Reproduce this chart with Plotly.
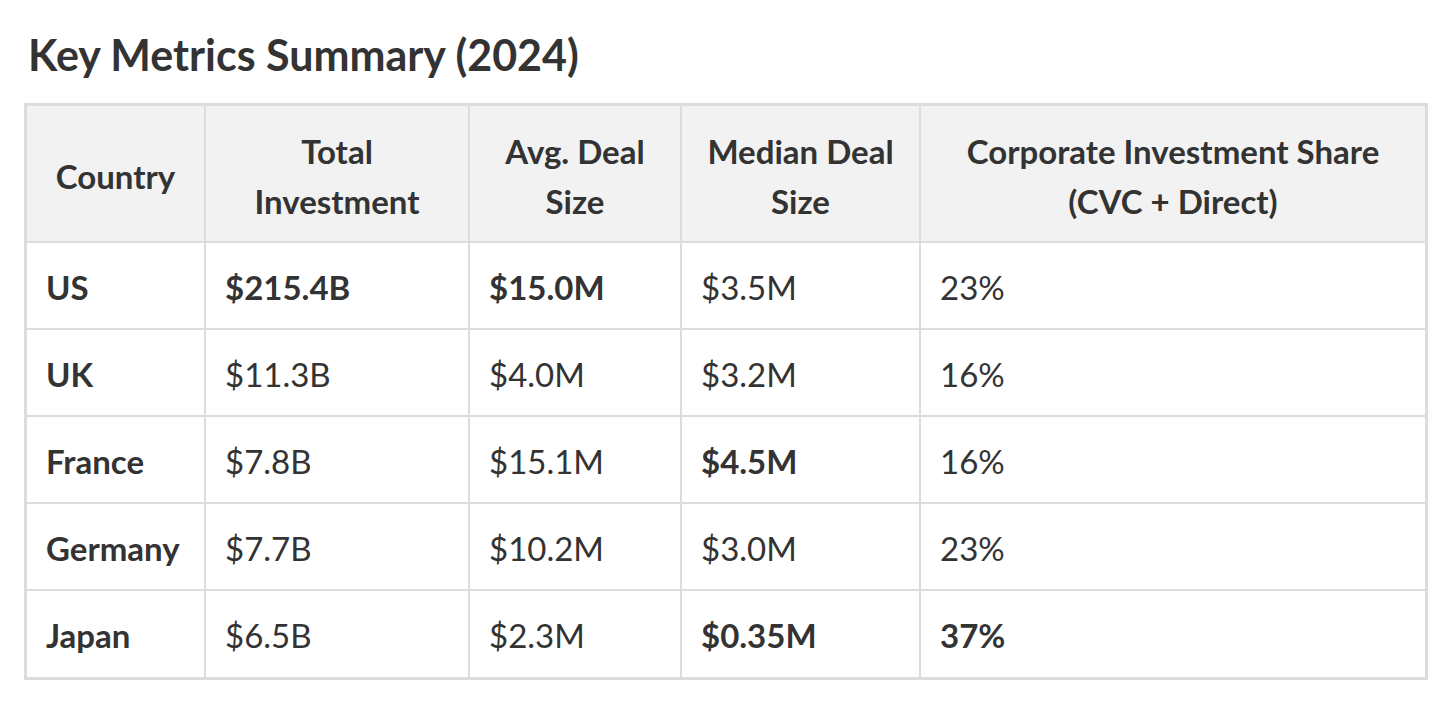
import plotly.graph_objects as go

title = "Key Metrics Summary (2024)"
header_lines = [["Country"], ["Total", "Investment"], ["Avg. Deal", "Size"],
                ["Median Deal", "Size"], ["Corporate Investment Share", "(CVC + Direct)"]]
countries = ["US", "UK", "France", "Germany", "Japan"]
total_investment = ["$215.4B", "$11.3B", "$7.8B", "$7.7B", "$6.5B"]
avg_deal_size = ["$15.0M", "$4.0M", "$15.1M", "$10.2M", "$2.3M"]
median_deal_size = ["$3.5M", "$3.2M", "$4.5M", "$3.0M", "$0.35M"]
corporate_share = ["23%", "16%", "16%", "23%", "37%"]
# highlighted (bold) cells: (column index, row index); the country column is always bold
bold_cells = {(1, 0), (2, 0), (3, 2), (3, 4), (4, 4)}

columns = [countries, total_investment, avg_deal_size, median_deal_size, corporate_share]

# ---- layout / style parameters (pixels) ----
W, H = 1456, 717
BODY_MARGIN = 8          # default page margin added by the browser
LEFT, TOP = 26 - BODY_MARGIN, 105 - BODY_MARGIN
col_widths = [179, 264, 212, 239, 506]
header_h = 137
row_heights = [87, 87, 87, 87, 88]
FONT = "Lato"
TEXT = "#333333"
BORDER = "#dcdcdc"
HEADER_BG = "#f2f2f2"
PAD = 20
LINE_GAP = 50
HEADER_SHIFT = 7
BODY_SHIFT = 6

x_edges = [0]
for w in col_widths:
    x_edges.append(x_edges[-1] + w)
y_edges = [0, header_h]
for h in row_heights:
    y_edges.append(y_edges[-1] + h)
table_w, table_h = x_edges[-1], y_edges[-1]

n_rows = len(countries)
n_cols = len(columns)
z = [[1] * n_cols] + [[0] * n_cols for _ in range(n_rows)]

fig = go.Figure()
fig.add_trace(go.Heatmap(
    z=z, x=x_edges, y=y_edges,
    colorscale=[[0, "#ffffff"], [1, HEADER_BG]], zmin=0, zmax=1,
    showscale=False, xgap=2, ygap=2, hoverinfo="skip",
))

# header text (centered, one point per line)
hx, hy, ht = [], [], []
hc = header_h / 2
for ci, lines in enumerate(header_lines):
    cx = (x_edges[ci] + x_edges[ci + 1]) / 2
    n = len(lines)
    for li, line in enumerate(lines):
        hx.append(cx)
        hy.append(hc + HEADER_SHIFT + (li - (n - 1) / 2) * LINE_GAP)
        ht.append(f"<b>{line}</b>")
fig.add_trace(go.Scatter(
    x=hx, y=hy, text=ht, mode="text", textposition="middle center",
    textfont=dict(family=FONT, size=33, color=TEXT), hoverinfo="skip", showlegend=False,
))

# body text (left aligned)
bx, by, bt = [], [], []
for ci, col in enumerate(columns):
    for ri, v in enumerate(col):
        bx.append(x_edges[ci] + PAD)
        by.append((y_edges[ri + 1] + y_edges[ri + 2]) / 2 + BODY_SHIFT)
        bt.append(f"<b>{v}</b>" if (ci == 0 or (ci, ri) in bold_cells) else v)
fig.add_trace(go.Scatter(
    x=bx, y=by, text=bt, mode="text", textposition="middle right",
    textfont=dict(family=FONT, size=33, color=TEXT), hoverinfo="skip", showlegend=False,
))

axis_common = dict(showgrid=False, zeroline=False, showticklabels=False, ticks="",
                   showline=True, mirror=True, linecolor=BORDER, linewidth=2, fixedrange=True)
fig.update_xaxes(range=[0, table_w], **axis_common)
fig.update_yaxes(range=[table_h, 0], **axis_common)

fig.update_layout(
    width=W, height=H,
    margin=dict(l=LEFT, r=W - LEFT - table_w, t=TOP, b=H - TOP - table_h),
    paper_bgcolor="#ffffff", plot_bgcolor=BORDER,
    showlegend=False,
    annotations=[dict(
        text=f"<b>{title}</b>", x=0, y=1 + 50 / table_h, xref="paper", yref="paper",
        xanchor="left", yanchor="middle", showarrow=False,
        font=dict(family=FONT, size=43, color=TEXT),
    )],
)

fig.write_html("out.html")
